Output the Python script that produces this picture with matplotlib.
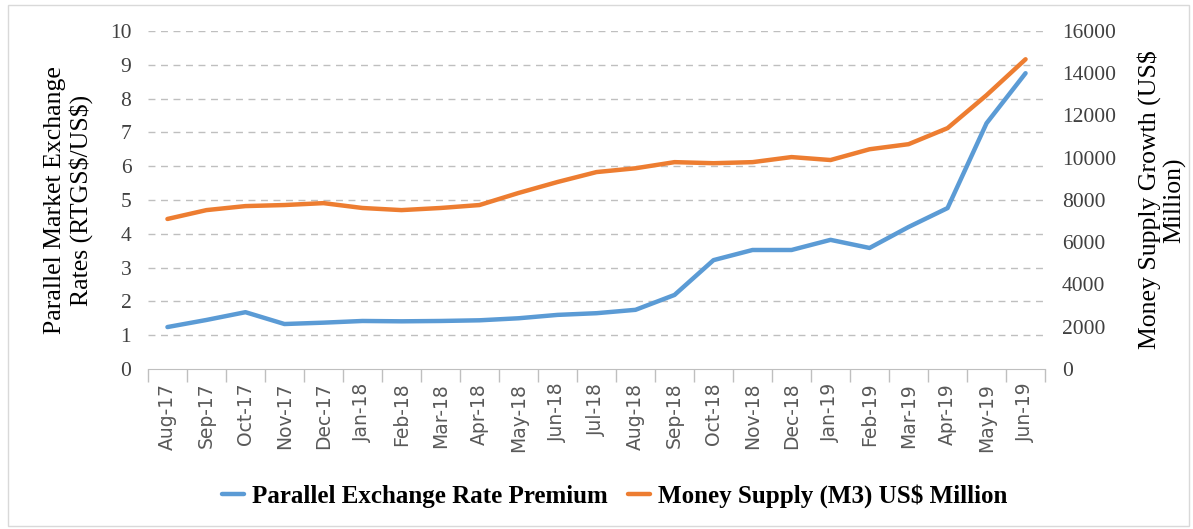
import matplotlib
matplotlib.use("Agg")
import matplotlib.pyplot as plt
from matplotlib.patches import Rectangle

months = ["Aug-17", "Sep-17", "Oct-17", "Nov-17", "Dec-17", "Jan-18", "Feb-18",
          "Mar-18", "Apr-18", "May-18", "Jun-18", "Jul-18", "Aug-18", "Sep-18",
          "Oct-18", "Nov-18", "Dec-18", "Jan-19", "Feb-19", "Mar-19", "Apr-19",
          "May-19", "Jun-19"]
parallel_rate = [1.24, 1.45, 1.68, 1.33, 1.37, 1.42, 1.41, 1.42, 1.44, 1.50, 1.60,
                 1.65, 1.75, 2.19, 3.22, 3.52, 3.52, 3.82, 3.58, 4.20, 4.76, 7.27, 8.75]
money_supply = [7100, 7520, 7710, 7760, 7850, 7620, 7520, 7620, 7760, 8330, 8850,
                9320, 9500, 9790, 9740, 9790, 10030, 9890, 10400, 10640, 11400,
                12960, 14660]

serif = "Liberation Serif"
blue = "#5B9BD5"
orange = "#ED7D31"

fig = plt.figure(figsize=(11.93, 5.29), dpi=100)
fig.patches.append(Rectangle((0.007, 0.005), 0.99, 0.985, transform=fig.transFigure,
                             fill=False, edgecolor="#d9d9d9", linewidth=1))
ax = fig.add_axes([0.124, 0.3025, 0.752, 0.639])
ax2 = ax.twinx()

x = list(range(len(months)))
l1, = ax.plot(x, parallel_rate, color=blue, linewidth=3.2, solid_capstyle="round")
l2, = ax2.plot(x, money_supply, color=orange, linewidth=3.2, solid_capstyle="round")

ax.set_xlim(-0.5, len(months) - 0.5)
ax.set_ylim(0, 10)
ax2.set_ylim(0, 16000)
ax.set_yticks(range(0, 11))
ax2.set_yticks(range(0, 16001, 2000))

# dashed gridlines
for v in range(1, 11):
    ax.axhline(v, color="#bfbfbf", linestyle=(0, (5, 4)), linewidth=1, zorder=0)

for a in (ax, ax2):
    for s in a.spines.values():
        s.set_visible(False)
ax.spines["bottom"].set_visible(True)
ax.spines["bottom"].set_color("#bfbfbf")

ax.set_xticks([i - 0.5 for i in range(len(months) + 1)], minor=False)
ax.set_xticklabels([])
ax.tick_params(axis="x", length=9, color="#bfbfbf", width=1)
ax.set_xticks(x, minor=True)
ax.set_xticklabels(months, minor=True, rotation=90, fontsize=13.5, color="#595959")
ax.tick_params(axis="x", which="minor", length=0, pad=10)

ax.tick_params(axis="y", length=0, labelsize=15.5, pad=12)
ax2.tick_params(axis="y", length=0, labelsize=15.5, pad=12)
for lab in ax.get_yticklabels() + ax2.get_yticklabels():
    lab.set_family(serif)
    lab.set_color("#404040")

ax.set_ylabel("Parallel Market Exchange\nRates (RTGS\\$/US\\$)", family=serif,
              fontsize=18.5, labelpad=12, linespacing=1.15)
ax2.set_ylabel("Money Supply Growth (US\\$\nMillion)", family=serif,
               fontsize=18.5, rotation=90, labelpad=15, linespacing=1.15)

fig.legend([l1, l2], ["Parallel Exchange Rate Premium", "Money Supply (M3) US\\$ Million"],
           loc="center", bbox_to_anchor=(0.515, 0.062), ncol=2, frameon=False,
           prop={"family": serif, "weight": "bold", "size": 18},
           handlelength=0.9, columnspacing=0.8, handletextpad=0.3)

fig.savefig("out.png", dpi=100)
